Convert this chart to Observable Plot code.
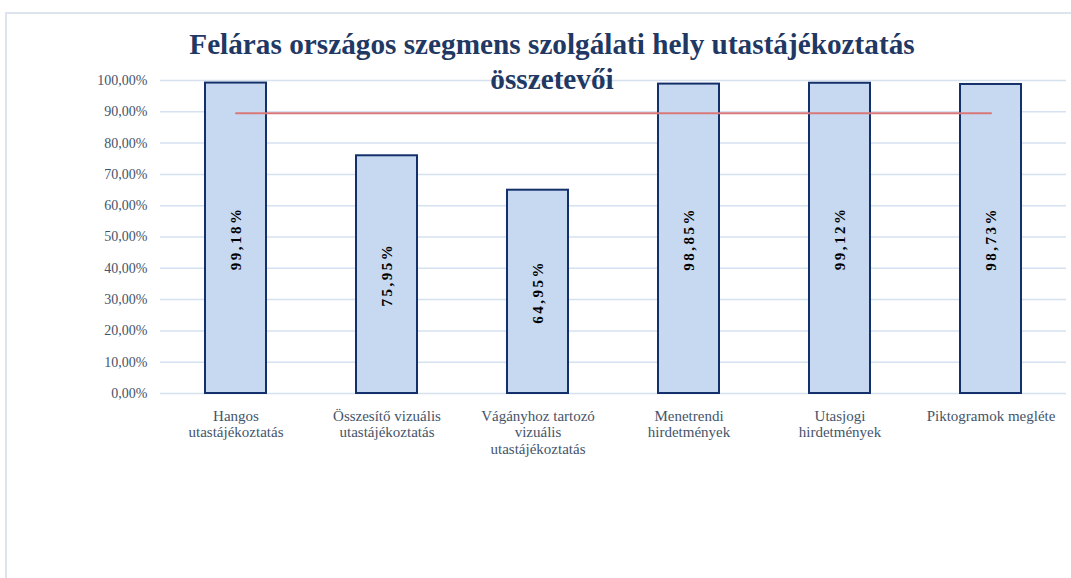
<!DOCTYPE html>
<html>
<head>
<meta charset="utf-8">
<script src="https://cdn.jsdelivr.net/npm/d3@7"></script>
<script src="https://cdn.jsdelivr.net/npm/@observablehq/plot@0.6"></script>
<style>
  html, body { margin: 0; padding: 0; background: #fff; }
  #wrap { position: relative; width: 1071px; height: 578px; overflow: hidden; }
  #frame { position: absolute; left: 5px; top: 12px; width: 1080px; height: 600px;
           border-left: 2px solid #dde4ee; border-top: 2px solid #dde4ee; box-sizing: border-box; }
  .title { position: absolute; left: 0; width: 1104px; text-align: center; white-space: nowrap;
           font-family: "Liberation Serif", "Times New Roman", serif; font-weight: bold;
           font-size: 30px; line-height: 34px; height: 34px; color: #1f3864; pointer-events: none;
           transform: scaleX(0.975); transform-origin: 552px 0; }
  #chart { position: absolute; left: 0; top: 0; }
  .vlabels text { letter-spacing: 2.5px; }
</style>
</head>
<body>
<div id="wrap">
  <div id="frame"></div>
  <div id="chart"></div>
  <div class="title" style="top:27px">Feláras országos szegmens szolgálati hely utastájékoztatás</div>
  <div class="title" style="top:62px">összetevői</div>
</div>
<script>
const categories = ["Hangos", "Összesítő", "Vágányhoz", "Menetrendi", "Utasjogi", "Piktogramok"];
const tickLabels = [
  "Hangos\nutastájékoztatás",
  "Összesítő vizuális\nutastájékoztatás",
  "Vágányhoz tartozó\nvizuális\nutastájékoztatás",
  "Menetrendi\nhirdetmények",
  "Utasjogi\nhirdetmények",
  "Piktogramok megléte"
];
const values = [99.18, 75.95, 64.95, 98.85, 99.12, 98.73];
const targetValues = [89.5, 89.5, 89.5, 89.5, 89.5, 89.5];
const yTicks = [0, 10, 20, 30, 40, 50, 60, 70, 80, 90, 100];

const data = categories.map((c, i) => ({cat: c, value: values[i], target: targetValues[i]}));
const fmt = v => v.toFixed(2).replace(".", ",") + "%";
const labelOf = Object.fromEntries(categories.map((c, i) => [c, tickLabels[i]]));

const chart = Plot.plot({
  width: 1071,
  height: 578,
  marginLeft: 160,
  marginRight: 5,
  marginTop: 80,
  marginBottom: 185,
  style: {fontFamily: "'Liberation Serif', 'Times New Roman', serif", fontSize: "14px", color: "#44546a", background: "transparent"},
  x: {domain: categories, paddingInner: 0.596, paddingOuter: 0.298, round: false, label: null},
  y: {domain: [0, 100], label: null},
  marks: [
    Plot.ruleY(yTicks, {stroke: "#d6e1f0", strokeWidth: 1.5}),
    Plot.axisY({ticks: yTicks, tickSize: 0, tickPadding: 13, tickFormat: fmt, fontSize: 14, fill: "#44546a", label: null}),
    Plot.axisX({tickSize: 0, tickPadding: 15, tickFormat: d => labelOf[d], fontSize: 15, lineHeight: 1.13, fill: "#44546a", label: null}),
    Plot.barY(data, {x: "cat", y: "value", fill: "#c6d9f0", stroke: "#14306b", strokeWidth: 2}),
    Plot.lineY(data, {x: "cat", y: "target", stroke: "#d9787a", strokeWidth: 2}),
    Plot.text(data, {x: "cat", y: d => d.value / 2, text: d => fmt(d.value), rotate: -90,
      fill: "#000", fontWeight: "bold", fontSize: 15, className: "vlabels"})
  ]
});
document.getElementById("chart").appendChild(chart);
</script>
</body>
</html>
